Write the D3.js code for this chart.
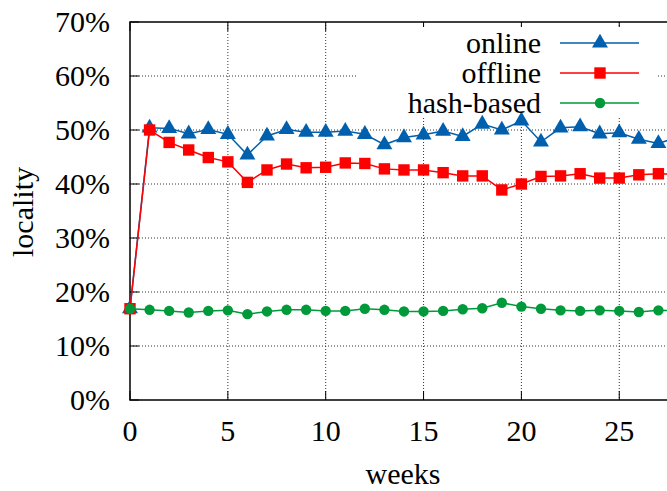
<!DOCTYPE html>
<html>
<head>
<meta charset="utf-8">
<script src="https://cdn.jsdelivr.net/npm/d3@7"></script>
<style>
  body { margin: 0; background: #fff; }
  svg { display: block; font-family: "Liberation Serif", "Times New Roman", serif; }
</style>
</head>
<body>
<div id="chart"></div>
<script>
// --- data (locality per week) ---
const weeks = d3.range(0, 29);
const online = [16.9, 50.4, 50.3, 49.3, 50.1, 49.2, 45.4, 48.9, 50.1, 49.6, 49.6, 49.8, 49.2, 47.3,
  48.6, 49.1, 49.8, 48.8, 51.1, 50.0, 51.7, 47.8, 50.4, 50.6, 49.3, 49.5, 48.3, 47.5, 48.7];
const offline = [16.9, 50.0, 47.7, 46.3, 44.9, 44.1, 40.3, 42.6, 43.7, 43.0, 43.1, 43.9, 43.8, 42.8,
  42.6, 42.6, 42.1, 41.5, 41.5, 38.9, 40.0, 41.4, 41.5, 41.9, 41.1, 41.1, 41.7, 41.9, 41.8];
const hashBased = [16.9, 16.7, 16.5, 16.2, 16.5, 16.6, 15.9, 16.4, 16.7, 16.7, 16.5, 16.5, 16.9, 16.7,
  16.4, 16.4, 16.5, 16.8, 17.0, 18.0, 17.3, 16.9, 16.6, 16.5, 16.6, 16.5, 16.3, 16.6, 16.5];
const xTicks = [0, 5, 10, 15, 20, 25];
const yTicks = [0, 10, 20, 30, 40, 50, 60, 70];

const series = [
  { name: "online", values: online, color: "#0060ad", shape: d3.symbolTriangle, size: 110 },
  { name: "offline", values: offline, color: "#ff0000", shape: d3.symbolSquare, size: 130 },
  { name: "hash-based", values: hashBased, color: "#009a3a", shape: d3.symbolCircle, size: 85 }
];

const width = 667, height = 491;
const plotLeft = 130, plotTop = 22, plotBottom = 400;
const weekPx = 19.57;

const svg = d3.select("#chart").append("svg")
  .attr("width", width).attr("height", height);

const x = d3.scaleLinear().domain([0, 28]).range([plotLeft, plotLeft + 28 * weekPx]);
const y = d3.scaleLinear().domain([0, 70]).range([plotBottom, plotTop]);
const plotRight = x(28);

// grid
const grid = svg.append("g").attr("stroke", "#333").attr("stroke-dasharray", "1,2").attr("stroke-width", 1);
grid.selectAll(".gx").data(xTicks.filter(d => d > 0)).enter().append("line")
  .attr("x1", d => x(d)).attr("x2", d => x(d)).attr("y1", plotTop).attr("y2", plotBottom);
grid.selectAll(".gy").data(yTicks.filter(d => d > 0 && d < 70)).enter().append("line")
  .attr("x1", plotLeft).attr("x2", plotRight).attr("y1", d => y(d)).attr("y2", d => y(d));

// ticks (inside, mirrored)
const ticks = svg.append("g").attr("stroke", "#000").attr("stroke-width", 1);
xTicks.forEach(t => {
  ticks.append("line").attr("x1", x(t)).attr("x2", x(t)).attr("y1", plotBottom).attr("y2", plotBottom - 9);
  ticks.append("line").attr("x1", x(t)).attr("x2", x(t)).attr("y1", plotTop).attr("y2", plotTop + 9);
});
yTicks.forEach(t => {
  ticks.append("line").attr("x1", plotLeft).attr("x2", plotLeft + 9).attr("y1", y(t)).attr("y2", y(t));
});

// frame
svg.append("path")
  .attr("d", `M${plotRight},${plotTop}H${plotLeft}V${plotBottom}H${plotRight}`)
  .attr("fill", "none").attr("stroke", "#000").attr("stroke-width", 1.5);

// tick labels
svg.append("g").selectAll("text").data(yTicks).enter().append("text")
  .attr("x", 110).attr("y", d => y(d) + 10)
  .attr("text-anchor", "end").attr("font-size", 30)
  .text(d => d + "%");
svg.append("g").selectAll("text").data(xTicks).enter().append("text")
  .attr("x", d => x(d)).attr("y", 441)
  .attr("text-anchor", "middle").attr("font-size", 30)
  .text(d => d);

// axis titles
svg.append("text").attr("x", 403).attr("y", 484).attr("text-anchor", "middle")
  .attr("font-size", 30).text("weeks");
svg.append("text").attr("transform", "translate(33,212) rotate(-90)")
  .attr("text-anchor", "middle").attr("font-size", 30).text("locality");

// legend (opaque box)
svg.append("rect").attr("x", 356).attr("y", 27).attr("width", 300).attr("height", 90).attr("fill", "#fff");

// series
const line = d3.line().x((d, i) => x(weeks[i])).y(d => y(d));
series.forEach(s => {
  svg.append("path").datum(s.values).attr("d", line)
    .attr("fill", "none").attr("stroke", s.color).attr("stroke-width", 1.5);
  svg.append("g").selectAll("path").data(s.values).enter().append("path")
    .attr("transform", (d, i) => `translate(${x(weeks[i])},${y(d)})`)
    .attr("d", d3.symbol().type(s.shape).size(s.size))
    .attr("fill", s.color);
});

const legend = svg.append("g");
series.forEach((s, i) => {
  const ly = 43 + i * 30;
  legend.append("text").attr("x", 541).attr("y", ly + 10).attr("text-anchor", "end")
    .attr("font-size", 30).text(s.name);
  legend.append("line").attr("x1", 560).attr("x2", 639).attr("y1", ly).attr("y2", ly)
    .attr("stroke", s.color).attr("stroke-width", 1.5);
  legend.append("path").attr("transform", `translate(600,${ly})`)
    .attr("d", d3.symbol().type(s.shape).size(s.size)).attr("fill", s.color);
});
</script>
</body>
</html>
